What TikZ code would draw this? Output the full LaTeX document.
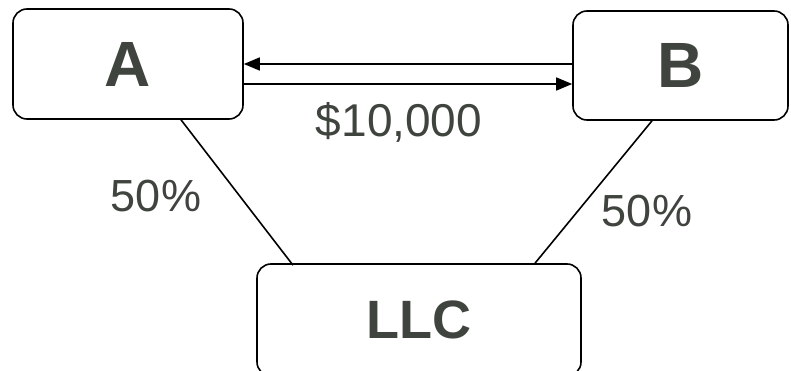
\documentclass[tikz,border=0pt]{standalone}
\usepackage{fontspec}
\setmainfont{Liberation Sans}
\usepackage{tikz}
\usetikzlibrary{positioning,arrows.meta}
\usepackage{xcolor}
\definecolor{inkgray}{RGB}{64,68,62}
\begin{document}
\begin{tikzpicture}[x=1pt,y=-1pt,>={Triangle[length=16pt,width=13pt]},
  party/.style={draw,line width=1.6pt,rounded corners=14pt,minimum width=#1,inner sep=0pt,text=inkgray,font=\fontsize{64}{70}\selectfont\bfseries},
  share/.style={text=inkgray,font=\fontsize{45}{50}\selectfont,inner sep=0pt}]
\useasboundingbox (0,0) rectangle (791,371);
\node[party=230pt,minimum height=110pt] (A) at (128,64) {A};
\node[party=215pt,minimum height=109pt] (B) at (680.5,65.5) {B};
\node[party=324pt,minimum height=112pt,font=\fontsize{54}{60}\selectfont\bfseries] (llc) at (419,320) {LLC};
\draw[<-,line width=1.6pt] (A.east) -- (A.east -| B.west);
\draw[->,line width=1.6pt] ([yshift=-20pt]A.east) -- ([yshift=-20pt]A.east -| B.west);
\draw[line width=1.6pt] ([xshift=53pt]A.south) -- ([xshift=-126pt,yshift=-2pt]llc.north);
\draw[line width=1.6pt] ([xshift=-28.5pt]B.south) -- ([xshift=116pt]llc.north);
\node[share,font=\fontsize{46}{50}\selectfont] (amount) at (399,122.5) {\$10,000};
\node[share] (leftshare) at (156,196) {50\%};
\node[share] (rightshare) at (647,211) {50\%};
\end{tikzpicture}
\end{document}
